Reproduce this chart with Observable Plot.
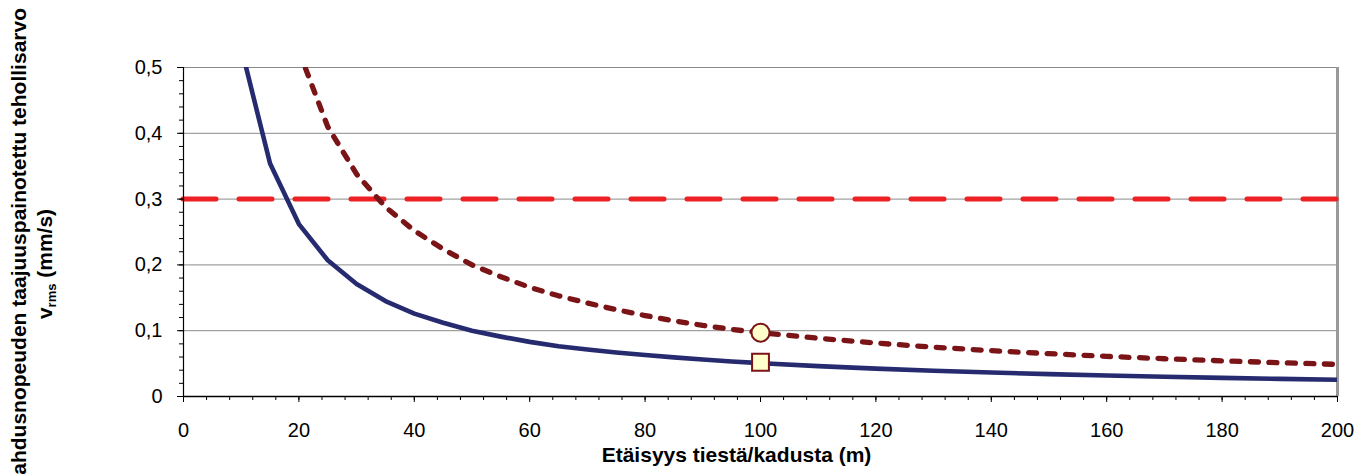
<!DOCTYPE html>
<html>
<head>
<meta charset="utf-8">
<script src="https://cdn.jsdelivr.net/npm/d3@7"></script>
<script src="https://cdn.jsdelivr.net/npm/@observablehq/plot@0.6"></script>
<style>
  html, body { margin: 0; padding: 0; background: white; overflow: hidden; }
</style>
</head>
<body>
<div id="chart"></div>
<script>
// ---- data ----
const distBlue = [10, 15, 20, 25, 30, 35, 40, 45, 50, 55, 60, 65, 70, 75, 80, 85, 90, 95, 100, 110, 120, 130, 140, 150, 160, 170, 180, 190, 200];
const valBlue  = [0.53, 0.354, 0.262, 0.207, 0.171, 0.145, 0.126, 0.112, 0.100, 0.091, 0.083, 0.0765, 0.0715, 0.067, 0.063, 0.0594, 0.0562, 0.0533, 0.0507, 0.0462, 0.0424, 0.0392, 0.0364, 0.034, 0.0319, 0.030, 0.0283, 0.0268, 0.0255];

const distRed = [20, 25, 30, 35, 40, 45, 50, 55, 60, 65, 70, 75, 80, 85, 90, 95, 100, 110, 120, 130, 140, 150, 160, 170, 180, 190, 200];
const valRed  = [0.525, 0.41, 0.338, 0.288, 0.252, 0.224, 0.200, 0.182, 0.166, 0.153, 0.142, 0.132, 0.123, 0.115, 0.108, 0.102, 0.097, 0.0885, 0.0812, 0.075, 0.0697, 0.0651, 0.061, 0.0574, 0.0542, 0.0514, 0.0488];

const limitValue = [0.3];
const circlePoint = [{x: 100, y: 0.097}];
const squarePoint = [{x: 100, y: 0.052}];

const xMajorTicks = [0, 20, 40, 60, 80, 100, 120, 140, 160, 180, 200];
const xMinorTicks = d3.range(0, 201, 4);
const yMajorTicks = [0, 0.1, 0.2, 0.3, 0.4, 0.5];
const yMinorTicks = d3.range(0, 0.5001, 0.02);
const gridValues = [0.1, 0.2, 0.3, 0.4, 0.5];

const xTitle = "Etäisyys tiestä/kadusta (m)";
const yTitleLine1 = "Heilahdusnopeuden taajuuspainotettu tehollisarvo";
const yTitleV = "v";
const yTitleSub = "rms";
const yTitleUnit = " (mm/s)";

// ---- build tables ----
const blue = distBlue.map((d, i) => ({x: d, y: valBlue[i]}));
const red = distRed.map((d, i) => ({x: d, y: valRed[i]}));

const fmt = d => d === 0 ? "0" : d3.format(".1f")(d).replace(".", ",");

const W = 1367, H = 474;
const mL = 183, mR = 30, mT = 67, mB = 78;

const chart = Plot.plot({
  width: W,
  height: H,
  marginLeft: mL,
  marginRight: mR,
  marginTop: mT,
  marginBottom: mB,
  style: {fontFamily: "'Liberation Sans', Arial, sans-serif", fontSize: "20px", color: "black", background: "white"},
  x: {domain: [0, 200], label: null},
  y: {domain: [0, 0.5], label: null},
  marks: [
    Plot.ruleY(gridValues, {stroke: "#8a8a8a", strokeWidth: 1}),
    Plot.ruleX([200], {stroke: "#999", strokeWidth: 3}),
    Plot.ruleY(limitValue, {stroke: "#EE2024", strokeWidth: 5, strokeDasharray: "33,23", strokeLinecap: "round"}),
    Plot.line(blue, {x: "x", y: "y", stroke: "#262B6F", strokeWidth: 4.6, clip: true}),
    Plot.line(red, {x: "x", y: "y", stroke: "#7B1416", strokeWidth: 5.3, strokeDasharray: "8,10.5", strokeLinecap: "round", clip: true}),
    Plot.dot(circlePoint, {x: "x", y: "y", r: 9, symbol: "circle", fill: "#FFFFCC", stroke: "#7B1416", strokeWidth: 2}),
    Plot.dot(squarePoint, {x: "x", y: "y", r: 9.5, symbol: "square", fill: "#FFFFCC", stroke: "#7B1416", strokeWidth: 2}),
    Plot.axisY(yMinorTicks, {tickSize: 4, tickFormat: () => "", stroke: "black"}),
    Plot.axisY(yMajorTicks, {tickSize: 6, tickPadding: 15, tickFormat: fmt, fontSize: 20, stroke: "black"}),
    Plot.axisX(xMinorTicks, {tickSize: 4, tickFormat: () => "", stroke: "black"}),
    Plot.axisX(xMajorTicks, {tickSize: 6, tickPadding: 20, tickFormat: d => String(d), fontSize: 20, stroke: "black"}),
    Plot.ruleX([0], {stroke: "black", strokeWidth: 1.2}),
    Plot.ruleY([0], {stroke: "black", strokeWidth: 1.5}),
    Plot.text([xTitle], {frameAnchor: "bottom", dx: -24, dy: 65, fontWeight: "bold", fontSize: 21, fill: "black"})
  ]
});

// y-axis title (two lines, rotated)
const svg = d3.select(chart);
svg.append("text")
  .attr("transform", "translate(26,8) rotate(-90)")
  .attr("text-anchor", "end")
  .attr("font-family", "'Liberation Sans', Arial, sans-serif")
  .attr("font-weight", "bold")
  .attr("font-size", 21)
  .attr("fill", "black")
  .text(yTitleLine1);
const t2 = svg.append("text")
  .attr("transform", "translate(52,264) rotate(-90)")
  .attr("text-anchor", "middle")
  .attr("font-family", "'Liberation Sans', Arial, sans-serif")
  .attr("font-weight", "bold")
  .attr("font-size", 21)
  .attr("fill", "black");
t2.append("tspan").text(yTitleV);
t2.append("tspan").attr("font-size", 13).attr("dy", 4).text(yTitleSub);
t2.append("tspan").attr("dy", -4).text(yTitleUnit);

document.getElementById("chart").appendChild(chart);
</script>
</body>
</html>
